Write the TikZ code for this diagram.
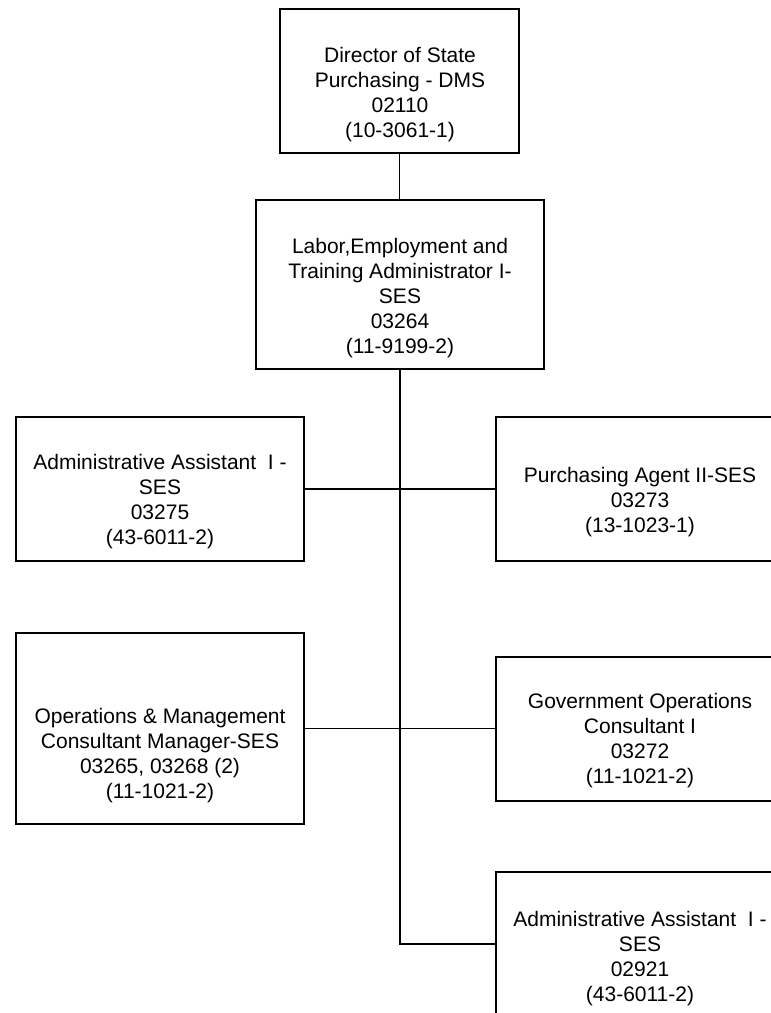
\documentclass[tikz,border=0pt]{standalone}
\usepackage{fontspec}
\setmainfont{Liberation Sans}
\begin{document}
\begin{tikzpicture}[x=1pt,y=-1pt,
  box/.style={draw=black,line width=1.8pt,rectangle,inner sep=0pt,fill=none},
  label/.style={align=center,inner sep=0pt,font=\fontsize{21}{25}\selectfont},
  link/.style={draw=black,line width=1.8pt}]
\useasboundingbox (0,0) rectangle (771,1013);
\clip (0,0) rectangle (771,1013);

% boxes
\node[box,minimum width=239pt,minimum height=144pt] (dir)   at (399.5,81)  {};
\node[box,minimum width=288pt,minimum height=169pt] (lab)   at (400,284.5) {};
\node[box,minimum width=288pt,minimum height=144pt] (adm1)  at (160,489)   {};
\node[box,minimum width=294pt,minimum height=144pt] (purch) at (643,489)   {};
\node[box,minimum width=288pt,minimum height=191pt] (ops)   at (160,728.5) {};
\node[box,minimum width=294pt,minimum height=144pt] (gov)   at (643,729)   {};
\node[box,minimum width=294pt,minimum height=168pt] (adm2)  at (643,956)   {};

% texts
\node[label] (tdir)   at (400,95)    {Director of State\\Purchasing - DMS\\02110\\(10-3061-1)};
\node[label] (tlab)   at (400,297.6) {Labor,Employment and\\Training Administrator I-\\SES\\03264\\(11-9199-2)};
\node[label] (tadm1)  at (160,501.6) {Administrative Assistant\ \ I -\\SES\\03275\\(43-6011-2)};
\node[label] (tpurch) at (640,502)   {Purchasing Agent II-SES\\03273\\(13-1023-1)};
\node[label] (tops)   at (160,755.6) {Operations \& Management\\Consultant Manager-SES\\03265, 03268 (2)\\(11-1021-2)};
\node[label] (tgov)   at (640,740.6) {Government Operations\\Consultant I\\03272\\(11-1021-2)};
\node[label] (tadm2)  at (640,958.6) {Administrative Assistant\ \ I -\\SES\\02921\\(43-6011-2)};

% connectors
\coordinate (j) at (400,944);
\draw[link] (dir.south) -- (dir.south |- lab.north);
\draw[link] (lab.south) -- (j) -- (j -| adm2.west);
\draw[link] (adm1.east) -- (purch.west);
\draw[link] (ops.east) -- (ops.east -| gov.west);
\end{tikzpicture}
\end{document}
